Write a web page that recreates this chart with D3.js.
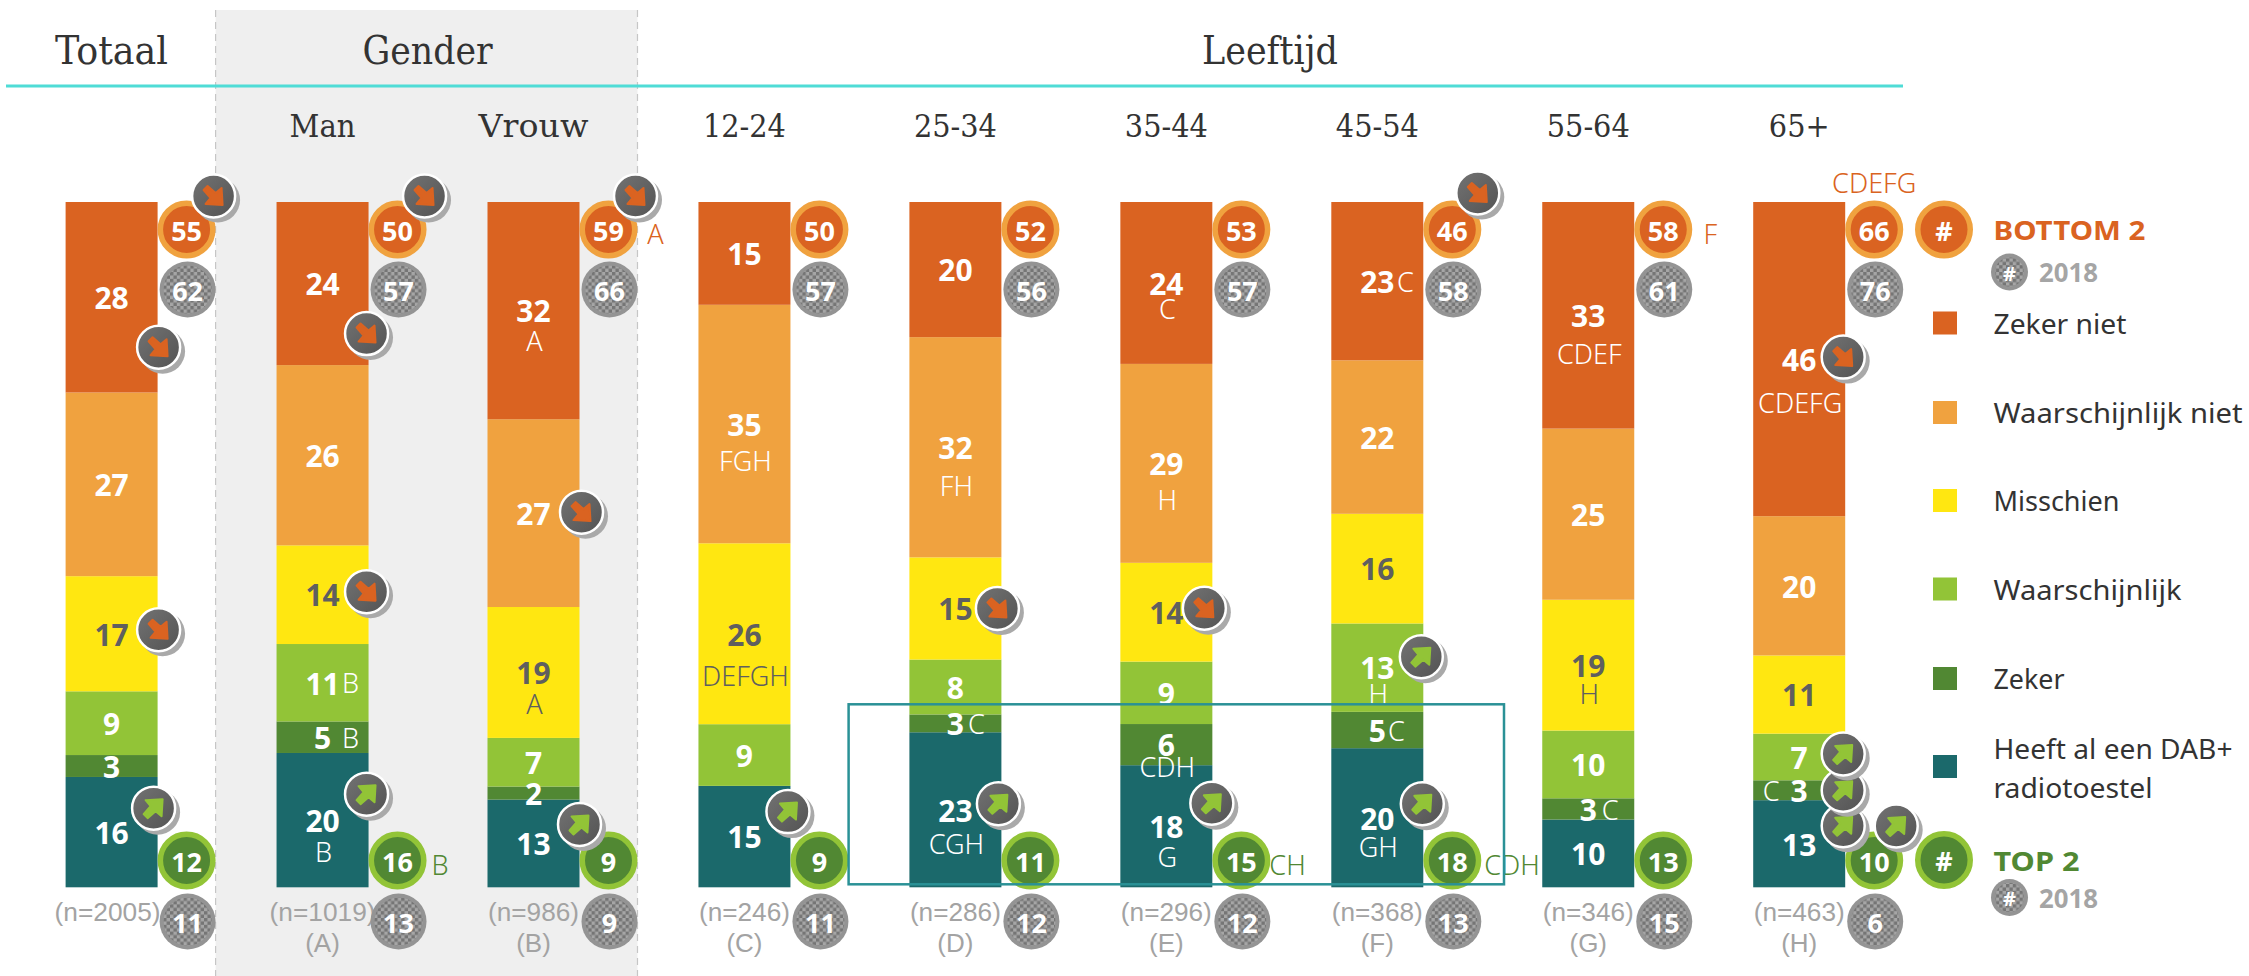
<!DOCTYPE html>
<html><head><meta charset="utf-8">
<script src="https://cdn.jsdelivr.net/npm/d3@7/dist/d3.min.js"></script>
<style>html,body{margin:0;padding:0;background:#fff;overflow:hidden}svg{display:block}</style>
</head><body><svg id="c" width="2249" height="976"></svg>
<script>
// ---------- data ----------
const columns = ["Totaal","Man","Vrouw","12-24","25-34","35-44","45-54","55-64","65+"];
const sampleSizes = ["(n=2005)","(n=1019)","(n=986)","(n=246)","(n=286)","(n=296)","(n=368)","(n=346)","(n=463)"];
const columnLetters = ["","(A)","(B)","(C)","(D)","(E)","(F)","(G)","(H)"];
const seriesNames = ["Zeker niet","Waarschijnlijk niet","Misschien","Waarschijnlijk","Zeker"];
const dabName = ["Heeft al een DAB+","radiotoestel"];
const zekerNiet = [27.8,23.8,31.7,15.0,19.7,23.6,23.1,33.1,45.8];
const waarschijnlijkNiet = [26.8,26.3,27.4,34.8,32.1,29.0,22.4,25.0,20.3];
const misschien = [16.8,14.4,19.1,26.4,14.9,14.4,16.0,19.1,11.4];
const waarschijnlijk = [9.3,11.3,7.1,9.0,8.0,9.1,12.9,9.9,6.8];
const zeker = [3.2,4.6,1.9,0,2.6,6.0,5.3,3.1,2.9];
const heeftDab = [16.1,19.6,12.8,14.8,22.6,17.8,20.3,9.9,12.7];
const bottom2 = [55,50,59,50,52,53,46,58,66];
const bottom2of2018 = [62,57,66,57,56,57,58,61,76];
const top2 = [12,16,9,9,11,15,18,13,10];
const top2of2018 = [11,13,9,11,12,12,13,15,6];
const sigZekerNiet = ["","","A","","","C","C","CDEF","CDEFG"];
const sigWaarschijnlijkNiet = ["","","","FGH","FH","H","","",""];
const sigMisschien = ["","","A","DEFGH","","","","H",""];
const sigWaarschijnlijk = ["","B","","","","","H","",""];
const sigZeker = ["","B","","","C","CDH","C","C","C"];
const sigDab = ["","B","","","CGH","G","GH","",""];
const sigBottom2 = ["","","A","","","","","F","CDEFG"];
const sigTop2 = ["","B","","","","CH","CDH","",""];
const trendZekerNiet = ["down","down","","","","","","","down"];
const trendWaarschijnlijkNiet = ["","","down","","","","","",""];
const trendMisschien = ["down","down","","","down","down","","",""];
const trendWaarschijnlijk = ["","","","","","","up","","up"];
const trendZeker = ["","","","","","","","","up"];
const trendDab = ["up","up","up","up","up","up","up","","up"];
const trendBottom2 = ["down","down","down","","","","down","",""];
const trendTop2 = ["","","","","","","","","up"];

// ---------- layout tweaks (pixels, not data) ----------
const W = 2249, H = 976;
const colours = {zn:"#DA6321",wn:"#F0A23F",mi:"#FFE711",wa:"#92C437",ze:"#518833",da:"#1B696B"};
const keys = ["da","ze","wa","mi","wn","zn"];
const sigDy = {"zn|2":30,"zn|5":25,"zn|7":38,"zn|8":43,"wn|3":36,"wn|4":38,"wn|5":36,"mi|2":31,"mi|3":42,"mi|7":28,"wa|6":26,"ze|5":22,"da|1":31,"da|4":33,"da|5":30,"da|6":29};
const sigInlineDx = {"wa|1":28,"ze|1":28,"zn|6":28,"ze|4":21,"ze|6":19,"ze|7":22,"ze|8":-28};
const sigTop2Dx = {1:34,5:28,6:32};
const badgeDy = {"zn|0":50,"zn|1":50,"zn|8":-2,"wn|2":-1,"mi|0":-4,"mi|1":-3,"mi|4":0,"mi|5":-4,"wa|6":-11,"wa|8":-3,"ze|8":0,"da|0":-24,"da|1":-26,"da|2":-19,"da|3":-25,"da|4":-6,"da|5":-23,"da|6":-14,"da|8":-18};
const badgeDx = {"zn|0":3,"mi|0":3,"da|0":-2,"wn|2":4,"da|2":2,"da|3":-0.5,"mi|4":-2,"da|4":-1,"mi|5":-6,"da|5":1.5,"da|6":1};
const legendWidths = [133,249,126,188,71];

// ---------- scales ----------
const x = d3.scaleBand().domain(columns).range([65.6,1845.2]).paddingInner(0.5639).paddingOuter(0);
const y = d3.scaleLinear().domain([0,1]).range([887.3,202]);
const rows = columns.map((c,i)=>({c,i,zn:zekerNiet[i],wn:waarschijnlijkNiet[i],mi:misschien[i],wa:waarschijnlijk[i],ze:zeker[i],da:heeftDab[i]}));
const stack = d3.stack().keys(keys).offset(d3.stackOffsetExpand)(rows);
const fmt = d3.format(".0f");
const sigs = {zn:sigZekerNiet,wn:sigWaarschijnlijkNiet,mi:sigMisschien,wa:sigWaarschijnlijk,ze:sigZeker,da:sigDab};
const trends = {zn:trendZekerNiet,wn:trendWaarschijnlijkNiet,mi:trendMisschien,wa:trendWaarschijnlijk,ze:trendZeker,da:trendDab};

const SANS = "'Noto Sans',sans-serif", SLAB = "'DejaVu Serif Condensed','DejaVu Serif',serif";
const svg = d3.select("#c");
const defs = svg.append("defs");
const pat = defs.append("pattern").attr("id","chk").attr("width",6.8).attr("height",6.8).attr("patternUnits","userSpaceOnUse");
pat.append("rect").attr("width",6.8).attr("height",6.8).attr("fill","#a6a6a6");
pat.append("rect").attr("width",3.4).attr("height",3.4).attr("fill","#757575");
pat.append("rect").attr("x",3.4).attr("y",3.4).attr("width",3.4).attr("height",3.4).attr("fill","#757575");
const gr = defs.append("linearGradient").attr("id","bdg").attr("x1",0).attr("y1",0).attr("x2",1).attr("y2",1);
gr.append("stop").attr("offset",0).attr("stop-color","#737373");
gr.append("stop").attr("offset",1).attr("stop-color","#535353");

// ---------- background ----------
svg.append("rect").attr("x",215.6).attr("y",10).attr("width",421.9).attr("height",H-10).attr("fill","#EFEFEF");
[215.6,637.5].forEach(v=>svg.append("line").attr("x1",v).attr("x2",v).attr("y1",10).attr("y2",H).attr("stroke","#c6c6c6").attr("stroke-width",1.2).attr("stroke-dasharray","7 5"));
svg.append("line").attr("x1",6).attr("x2",1903).attr("y1",86).attr("y2",86).attr("stroke","#4FDCD6").attr("stroke-width",3);

function txt(g,t,px,py,size,fill,o={}){
  return g.append("text").attr("x",px).attr("y",py).attr("dy","0.36em").attr("text-anchor",o.anchor||"middle")
    .attr("font-family",o.family||SANS).attr("font-size",size).attr("font-weight",o.weight||400).attr("fill",fill)
    .attr("textLength",o.len||null).attr("lengthAdjust",o.len?"spacingAndGlyphs":null).text(t);
}
// ---------- headers ----------
const head = svg.append("g");
txt(head,"Totaal",111.5,50,40,"#333",{family:SLAB,len:113});
txt(head,"Gender",427.6,50,40,"#333",{family:SLAB,len:130});
txt(head,"Leeftijd",1270,50,40,"#333",{family:SLAB,len:136});
const subLen = {"Man":66,"Vrouw":110};
columns.slice(1).forEach(c=>txt(head,c,x(c)+x.bandwidth()/2,125,32,"#333",{family:SLAB,len:subLen[c]||null}));

// ---------- bars ----------
const bars = svg.append("g");
stack.forEach(s=>{
  bars.selectAll(null).data(s).join("rect")
    .attr("x",d=>x(d.data.c)).attr("width",x.bandwidth())
    .attr("y",d=>y(d[1])).attr("height",d=>y(d[0])-y(d[1]))
    .attr("fill",colours[s.key]);
});
// ---------- labels ----------
const labels = svg.append("g");
stack.forEach(s=>{
  const k = s.key, fill = k==="mi" ? "#5f5f5f" : "#fff";
  s.forEach((d,i)=>{
    const v = d.data[k]; if(!v) return;
    const cx = x(d.data.c)+x.bandwidth()/2, cy=(y(d[0])+y(d[1]))/2+1;
    txt(labels,fmt(v),cx,cy,30,fill,{weight:700});
    const sg = sigs[k][i]; if(!sg) return;
    const id=k+"|"+i;
    if(sigInlineDx[id]!==undefined) txt(labels,sg,cx+sigInlineDx[id],cy,27,fill,{weight:300});
    else txt(labels,sg,cx+1,cy+(sigDy[id]||30),27,fill,{weight:300});
  });
});
// ---------- n labels ----------
const foot = svg.append("g");
columns.forEach((c,i)=>{
  const cx=x(c)+x.bandwidth()/2-(i===0?4:0);
  txt(foot,sampleSizes[i],cx,911.5,25,"#a3a3a3",{family:"'Liberation Sans',sans-serif",len:i<2?106:91});
  if(columnLetters[i]) txt(foot,columnLetters[i],cx,943,26,"#a3a3a3",{family:"'Liberation Sans',sans-serif"});
});
// ---------- bubbles ----------
function ringed(g,cx,cy,t,ring,fill,r=29){
  g.append("circle").attr("cx",cx).attr("cy",cy).attr("r",r-2.75).attr("fill",fill).attr("stroke",ring).attr("stroke-width",5.5);
  txt(g,t,cx,cy+1.5,27,"#fff",{weight:700});
}
function checker(g,cx,cy,t,r=28,size=27){
  g.append("circle").attr("cx",cx).attr("cy",cy).attr("r",r).attr("fill","#949494");
  g.append("circle").attr("cx",cx).attr("cy",cy).attr("r",r-4).attr("fill","url(#chk)");
  txt(g,t,cx,cy+1.5,size,"#fff",{weight:700});
}
const bub = svg.append("g");
columns.forEach((c,i)=>{
  const cx=x(c)+x.bandwidth()+29;
  ringed(bub,cx,229.5,bottom2[i],colours.wn,colours.zn);
  checker(bub,cx+1,289.5,bottom2of2018[i]);
  ringed(bub,cx,860.5,top2[i],colours.wa,colours.ze);
  checker(bub,cx+1,921.5,top2of2018[i]);
  if(sigBottom2[i]){
    if(i===8) txt(bub,sigBottom2[i],cx,183,27,colours.zn,{weight:300});
    else txt(bub,sigBottom2[i],cx+47,234,27,colours.zn,{weight:300});
  }
  if(sigTop2[i]) txt(bub,sigTop2[i],cx+sigTop2Dx[i],865,27,colours.ze,{weight:300,anchor:"start"});
});
// ---------- highlight box ----------
svg.append("rect").attr("x",848.6).attr("y",704.3).attr("width",655.4).attr("height",180).attr("fill","none").attr("stroke","#2A9196").attr("stroke-width",2.5);

// ---------- trend badges ----------
const arrowD = "M-10,-6 L-6,-10 L2,-3 L8,-8 L9,9 L-8,8 L-3,2 Z";
function badge(g,cx,cy,dir){
  const b=g.append("g").attr("transform",`translate(${cx},${cy})`);
  b.append("circle").attr("cx",4).attr("cy",4).attr("r",22.5).attr("fill","#a9a9a9");
  b.append("circle").attr("r",21.5).attr("fill","url(#bdg)").attr("stroke","#fff").attr("stroke-width",2.5);
  b.append("path").attr("d",arrowD).attr("transform",dir==="up"?"rotate(-90)":null)
    .attr("fill",dir==="up"?colours.wa:colours.zn).attr("stroke",dir==="up"?colours.wa:colours.zn).attr("stroke-width",2).attr("stroke-linejoin","round");
}
const bg = svg.append("g");
stack.forEach(s=>{  // bottom series first so higher badges overlap lower ones
  s.forEach((d,i)=>{
    const dir=trends[s.key][i]; if(!dir) return;
    const id=s.key+"|"+i;
    badge(bg,x(d.data.c)+x.bandwidth()-2+(badgeDx[id]||0),(y(d[0])+y(d[1]))/2+(badgeDy[id]||0),dir);
  });
});
columns.forEach((c,i)=>{
  if(trendBottom2[i]) badge(bg,x(c)+x.bandwidth()+(i===6?54.5:56),i===6?193:196,trendBottom2[i]);
  if(trendTop2[i]) badge(bg,x(c)+x.bandwidth()+51,826,trendTop2[i]);
});

// ---------- legend ----------
const lg = svg.append("g");
const legendY = [323.5,413,501,589.5,679,767];
const legendKeys = ["zn","wn","mi","wa","ze","da"];
legendKeys.forEach((k,i)=>{
  lg.append("rect").attr("x",1933).attr("y",legendY[i]-12).attr("width",24).attr("height",23).attr("fill",colours[k]);
  if(i<5) txt(lg,seriesNames[i],1993.5,legendY[i],28,"#333",{anchor:"start",len:legendWidths[i]});
});
txt(lg,dabName[0],1993.5,748.5,28,"#333",{anchor:"start",len:239});
txt(lg,dabName[1],1993.5,788,28,"#333",{anchor:"start",len:159});
ringed(lg,1944,229.5,"#",colours.wn,colours.zn);
ringed(lg,1944,860,"#",colours.wa,colours.ze);
txt(lg,"BOTTOM 2",1993.5,230.5,27,colours.zn,{anchor:"start",weight:700,len:152});
txt(lg,"TOP 2",1993.5,861,27,colours.ze,{anchor:"start",weight:700,len:86});
[272,897.5].forEach(v=>{
  checker(lg,2009.5,v,"#",18.5,20);
  txt(lg,"2018",2039,v+1,26,"#a5a5a5",{anchor:"start",weight:700,len:59});
});
</script></body></html>
